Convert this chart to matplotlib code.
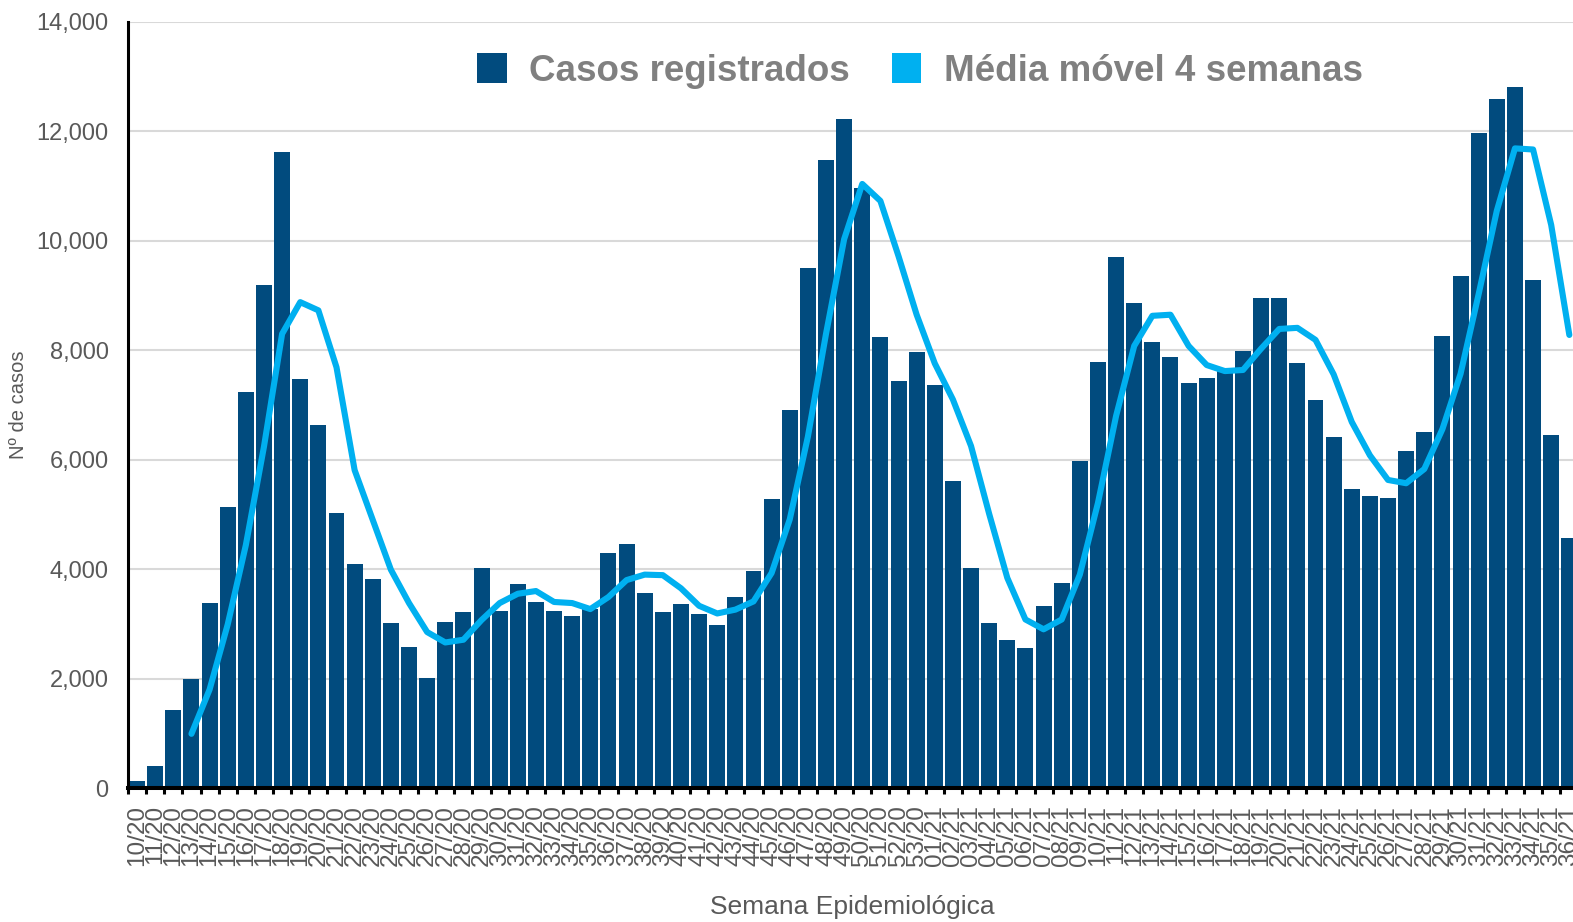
import matplotlib
matplotlib.use("Agg")
import matplotlib.pyplot as plt
from matplotlib.patches import Patch
import numpy as np

plt.rcParams['font.family'] = ['Liberation Sans', 'DejaVu Sans']

semanas = ['10/20', '11/20', '12/20', '13/20', '14/20', '15/20', '16/20', '17/20', '18/20', '19/20',
           '20/20', '21/20', '22/20', '23/20', '24/20', '25/20', '26/20', '27/20', '28/20', '29/20',
           '30/20', '31/20', '32/20', '33/20', '34/20', '35/20', '36/20', '37/20', '38/20', '39/20',
           '40/20', '41/20', '42/20', '43/20', '44/20', '45/20', '46/20', '47/20', '48/20', '49/20',
           '50/20', '51/20', '52/20', '53/20', '01/21', '02/21', '03/21', '04/21', '05/21', '06/21',
           '07/21', '08/21', '09/21', '10/21', '11/21', '12/21', '13/21', '14/21', '15/21', '16/21',
           '17/21', '18/21', '19/21', '20/21', '21/21', '22/21', '23/21', '24/21', '25/21', '26/21',
           '27/21', '28/21', '29/21', '30/21', '31/21', '32/21', '33/21', '34/21', '35/21', '36/21']

casos = [120, 400, 1430, 2000, 3390, 5130, 7240, 9190, 11620, 7480,
         6640, 5020, 4100, 3820, 3010, 2570, 2010, 3030, 3210, 4020,
         3240, 3720, 3400, 3240, 3140, 3280, 4300, 4460, 3570, 3210,
         3370, 3180, 2980, 3500, 3960, 5290, 6900, 9510, 11480, 12220,
         10960, 8250, 7440, 7960, 7370, 5620, 4030, 3010, 2710, 2560,
         3320, 3740, 5980, 7790, 9700, 8860, 8150, 7880, 7410, 7490,
         7680, 7980, 8950, 8950, 7760, 7100, 6410, 5470, 5340, 5300,
         6160, 6500, 8270, 9360, 11980, 12600, 12810, 9290, 6450, 4570]

# media movel (starts at week 13/20)
media = [990, 1800, 2990, 4440, 6240, 8300, 8880,
         8730, 7690, 5810, 4900, 3990, 3380, 2850, 2660, 2710, 3070,
         3380, 3550, 3600, 3400, 3380, 3270, 3490, 3800, 3900, 3890,
         3650, 3330, 3190, 3260, 3410, 3930, 4910, 6420, 8300, 10030,
         11040, 10730, 9720, 8650, 7760, 7100, 6250, 5010, 3840, 3080,
         2900, 3080, 3900, 5210, 6800, 8080, 8630, 8650, 8080, 7730,
         7620, 7640, 8030, 8390, 8410, 8190, 7560, 6690, 6080, 5630,
         5570, 5830, 6560, 7570, 9030, 10550, 11690, 11670, 10290, 8280]

cor_barra = '#014B7E'
cor_linha = '#00B0F0'
cinza = '#595959'

fig = plt.figure(figsize=(15.73, 9.22), dpi=100)
ax = fig.add_axes([128 / 1573, 134 / 922, 1450.4 / 1573, 766 / 922])

x = np.arange(len(casos))
ax.bar(x, casos, width=0.88, color=cor_barra, zorder=2)
xm = x[len(casos) - len(media):]
ax.plot(xm, media, color=cor_linha, lw=4.4, solid_capstyle='round',
        solid_joinstyle='round', zorder=3)

ax.set_xlim(-0.5, len(casos) - 0.5)
ax.set_ylim(0, 14000)
ax.set_yticks(np.arange(0, 14001, 2000))
ax.set_yticklabels(['{:,}'.format(v) for v in range(0, 14001, 2000)])
ax.yaxis.grid(True, color='#d9d9d9', lw=1.5, zorder=0)
ax.set_axisbelow(True)

ax.set_xticks(x)
ax.set_xticklabels(semanas, rotation=90)
ax.set_xticks(np.arange(-0.5, len(casos), 1), minor=True)
ax.tick_params(axis='x', which='major', length=0, pad=12.5, labelsize=17.5, labelcolor=cinza)
ax.tick_params(axis='x', which='minor', length=4.5, width=2.2, color='black', direction='out')
ax.tick_params(axis='y', length=0, pad=14, labelsize=17, labelcolor=cinza)

for s in ['top', 'right']:
    ax.spines[s].set_visible(False)
ax.spines['left'].set_linewidth(2.2)
ax.spines['bottom'].set_linewidth(2.9)
ax.spines['bottom'].set_zorder(4)

fig.text(19 / 1573, 1 - 405 / 922, 'Nº de casos', rotation=90, ha='center', va='center',
         fontsize=14.5, color=cinza)
fig.text(852 / 1573, 1 - 907 / 922, 'Semana Epidemiológica', ha='center', va='center',
         fontsize=19, color=cinza)

handles = [Patch(facecolor=cor_barra), Patch(facecolor=cor_linha)]
fig.legend(handles, ['Casos registrados', 'Média móvel 4 semanas'], loc='center',
           bbox_to_anchor=(920 / 1573, 1 - 71 / 922), ncol=2, frameon=False,
           prop={'size': 26.5, 'weight': 'bold'}, labelcolor='#808080',
           handlelength=0.8, handleheight=0.85, handletextpad=0.6, columnspacing=1.15)

fig.savefig('out.png', dpi=100)
